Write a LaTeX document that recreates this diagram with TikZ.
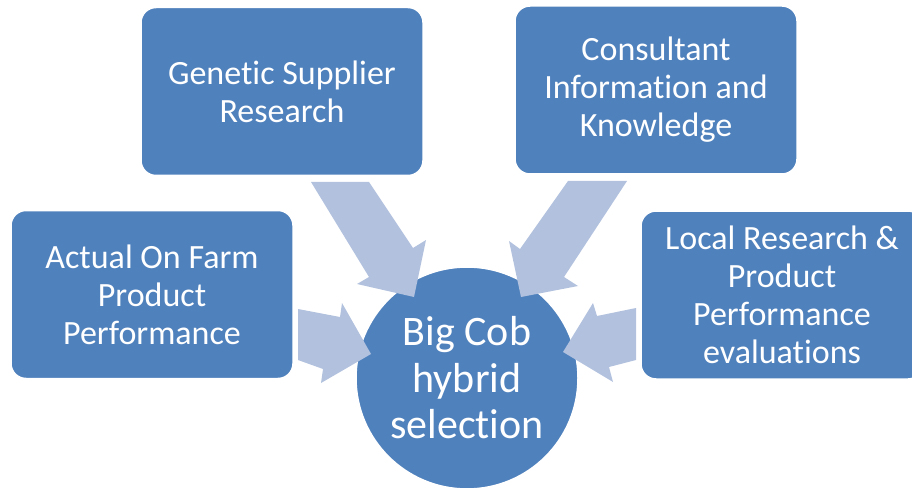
\documentclass[tikz,border=0pt]{standalone}
\usepackage{fontspec}
\setmainfont{Carlito}[Ligatures=NoCommon]
\definecolor{boxblue}{RGB}{79,129,189}
\definecolor{arrowblue}{RGB}{178,194,222}
\begin{document}
\begin{tikzpicture}[x=1pt,y=-1pt,
  srcbox/.style={draw=white, line width=1.5pt, fill=boxblue, rounded corners=15pt,
    minimum width=282pt, minimum height=168pt, text=white, align=center, inner sep=0pt,
    font=\fontsize{34}{38}\selectfont},
  hub/.style={circle, draw=white, line width=1.5pt, fill=boxblue, minimum size=222pt,
    text=white, align=center, inner sep=0pt, font=\fontsize{42}{46.5}\selectfont},
  blockarrow/.style={fill=arrowblue, draw=none}]
\useasboundingbox (0,0) rectangle (912,489);
\clip (0,0) rectangle (912,489);
\node[srcbox] (gen) at (282,91.5) {Genetic Supplier\\Research};
\node[srcbox] (cons) at (656,90) {Consultant\\Information and\\Knowledge};
\node[srcbox] (farm) at (152,294.5) {Actual On Farm\\Product\\Performance};
\node[srcbox] (local) at (782,295) {Local Research \&\\Product\\Performance\\evaluations};
\node[hub] (hub) at (467,378) {Big Cob\\hybrid\\selection};
% block arrows
\fill[blockarrow] (311,182) -- (369,182) -- (413,248) -- (426,240) -- (414,297) -- (357,284) -- (369,277) -- cycle;
\fill[blockarrow] (568,181) -- (627,181) -- (564,277) -- (578,286) -- (521,297) -- (509,241) -- (520,249) -- cycle;
\fill[blockarrow] (298,309) -- (340,317) -- (342,303) -- (371,354) -- (321,383) -- (323,369) -- (298,360) -- cycle;
\fill[blockarrow] (636,308) -- (597,316) -- (593,303) -- (563,352) -- (613,382) -- (609,367) -- (636,360) -- cycle;
\end{tikzpicture}
\end{document}
